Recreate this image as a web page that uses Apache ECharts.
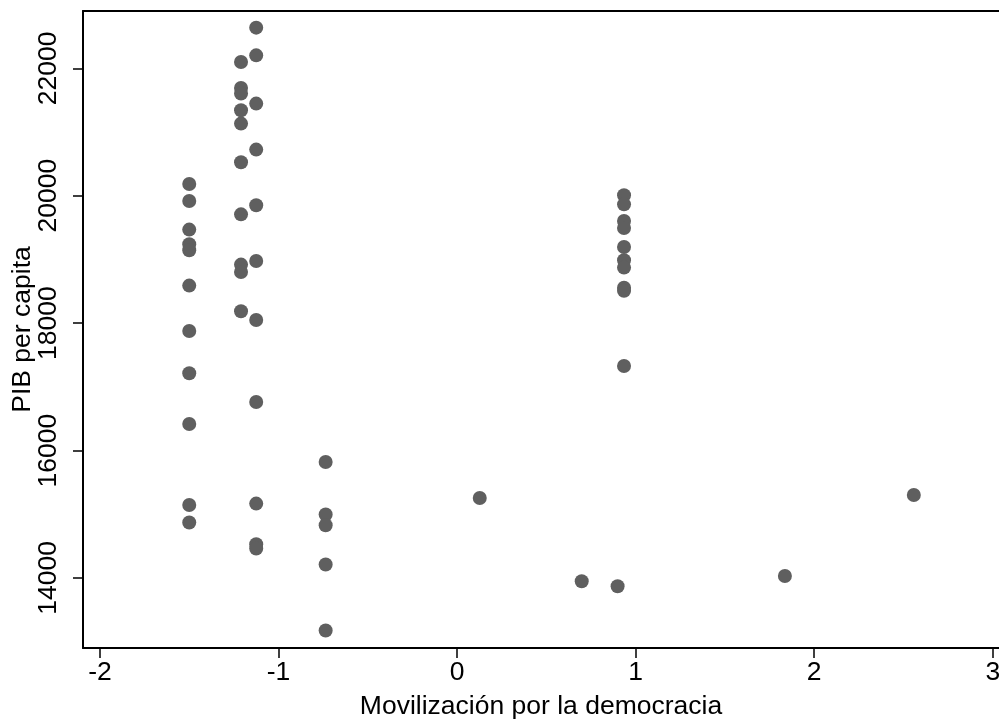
<!DOCTYPE html>
<html>
<head>
<meta charset="utf-8">
<script src="https://cdn.jsdelivr.net/npm/echarts@6/dist/echarts.min.js"></script>
<style>html,body{margin:0;padding:0;background:#fff;}#c{width:999px;height:720px;}</style>
</head>
<body>
<div id="c"></div>
<script>
// Movilización por la democracia (x) vs PIB per capita (y)
const movilizacion = [
  -1.50,-1.50,-1.50,-1.50,-1.50,-1.50,-1.50,-1.50,-1.50,-1.50,-1.50,
  -1.21,-1.21,-1.21,-1.21,-1.21,-1.21,-1.21,-1.21,-1.21,-1.21,
  -1.125,-1.125,-1.125,-1.125,-1.125,-1.125,-1.125,-1.125,-1.125,-1.125,-1.125,
  -0.736,-0.736,-0.736,-0.736,-0.736,
  0.127,0.698,0.899,1.836,2.558,
  0.935,0.935,0.935,0.935,0.935,0.935,0.935,0.935,0.935,0.935
];
const pibPerCapita = [
  20184,19917,19468,19238,19143,18589,17877,17213,16417,15146,14869,
  22099,21691,21603,21341,21132,20525,19708,18919,18803,18186,
  22639,22204,21446,20724,19850,18975,18049,16762,15167,14529,14461,
  15820,14995,14827,14210,13174,
  15255,13948,13869,14031,15303,
  20007,19865,19603,19493,19195,18986,18872,18555,18508,17327
];
const xTicks = [-2,-1,0,1,2,3];
const yTicks = [14000,16000,18000,20000,22000];
const xTitle = 'Movilización por la democracia';
const yTitle = 'PIB per capita';

const points = movilizacion.map((x,i)=>[x,pibPerCapita[i]]);
const FONT = 'Liberation Sans, Arial, Helvetica, sans-serif';
const FS = 26.5;
const chart = echarts.init(document.getElementById('c'));
chart.setOption({
  animation:false,
  backgroundColor:'#fff',
  grid:{left:83,right:0,top:11,bottom:72,containLabel:false,outerBoundsMode:'none'},
  xAxis:[{
    type:'value', min:-2.095, max:3.035,
    name:xTitle, nameLocation:'middle', nameGap:45, nameMoveOverlap:false,
    nameTextStyle:{color:'#000',fontSize:FS,fontFamily:FONT},
    axisLine:{show:true,onZero:false,lineStyle:{color:'#000',width:2}},
    axisTick:{show:true,length:10,customValues:xTicks,lineStyle:{color:'#000',width:1.5}},
    axisLabel:{show:true,customValues:xTicks,formatter:v=>String(v),color:'#000',fontSize:FS,fontFamily:FONT,margin:11},
    splitLine:{show:false}
  },{
    type:'value', position:'top', min:-2.095, max:3.035,
    axisLine:{show:true,onZero:false,lineStyle:{color:'#000',width:2}},
    axisTick:{show:false},axisLabel:{show:false},splitLine:{show:false}
  }],
  yAxis:{
    type:'value', min:12900, max:22900,
    name:yTitle, nameLocation:'middle', nameGap:47, nameRotate:90, nameMoveOverlap:false,
    nameTextStyle:{color:'#000',fontSize:FS,fontFamily:FONT},
    axisLine:{show:true,onZero:false,lineStyle:{color:'#000',width:2}},
    axisTick:{show:true,length:10,customValues:yTicks,lineStyle:{color:'#000',width:1.5}},
    axisLabel:{show:true,customValues:yTicks,formatter:v=>String(v),rotate:90,color:'#000',fontSize:FS,fontFamily:FONT,margin:21},
    splitLine:{show:false}
  },
  series:[{
    type:'scatter', data:points, symbol:'circle', symbolSize:14,
    itemStyle:{color:'#5f5f5f',opacity:1}
  }]
});
</script>
</body>
</html>
